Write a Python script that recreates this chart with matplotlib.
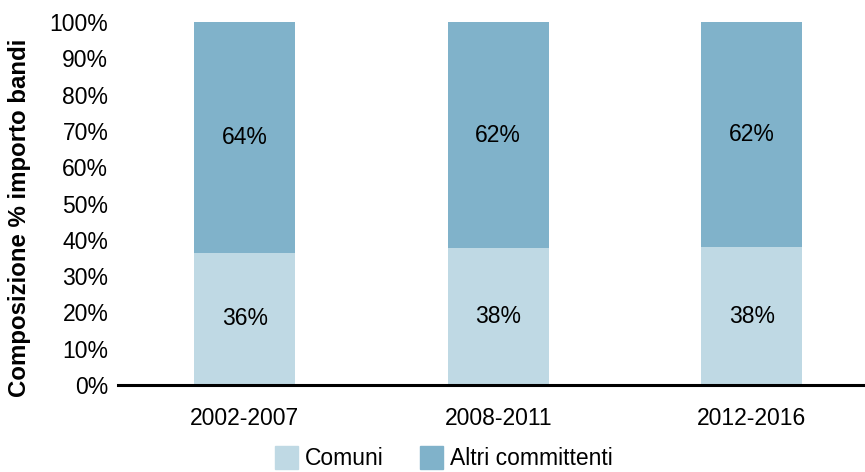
import numpy as np
import matplotlib.pyplot as plt
from matplotlib.patches import Patch

periods = ['2002-2007', '2008-2011', '2012-2016']
comuni = [36.4, 37.7, 38.0]
altri = [63.6, 62.3, 62.0]
series_names = ['Comuni', 'Altri committenti']
c_light = '#bfd9e4'
c_dark = '#80b2ca'

plt.rcParams['font.family'] = ['Liberation Sans', 'DejaVu Sans']

fig = plt.figure(figsize=(8.65, 4.72), dpi=100)
ax = fig.add_axes([0.1364, 0.1843, 0.8636, 0.7691])

x = np.arange(len(periods))
ax.bar(x, comuni, width=0.4, color=c_light)
ax.bar(x, altri, width=0.4, bottom=comuni, color=c_dark)

# percentage labels centred in each segment
for xi, lo, hi in zip(x, comuni, altri):
    ax.text(xi, lo / 2, f'{round(lo)}%', ha='center', va='center', fontsize=16.5)
    ax.text(xi, lo + hi / 2, f'{round(hi)}%', ha='center', va='center', fontsize=16.5)

ax.set_xlim(-0.5, 2.447)
ax.set_ylim(0, 100)
ax.set_yticks(np.arange(0, 101, 10))
ax.set_yticklabels([f'{v}%' for v in range(0, 101, 10)], fontsize=16.5)
ax.set_xticks(x)
ax.set_xticklabels(periods, fontsize=16.5)
ax.tick_params(axis='both', length=0)
ax.tick_params(axis='y', pad=7)
ax.tick_params(axis='x', pad=16)
for s in ['top', 'right', 'left']:
    ax.spines[s].set_visible(False)
ax.spines['bottom'].set_linewidth(2.2)
ax.set_ylabel('Composizione % importo bandi', fontsize=17.3, fontweight='bold')
ax.yaxis.set_label_coords(-0.117, 0.46)

handles = [Patch(color=c_light), Patch(color=c_dark)]
fig.legend(handles, series_names, loc='lower center', bbox_to_anchor=(0.513, -0.04),
           ncol=2, frameon=False, prop={'size': 16.5},
           handlelength=1.0, handleheight=1.2, handletextpad=0.3, columnspacing=1.6)

fig.savefig('out.png', dpi=100)
